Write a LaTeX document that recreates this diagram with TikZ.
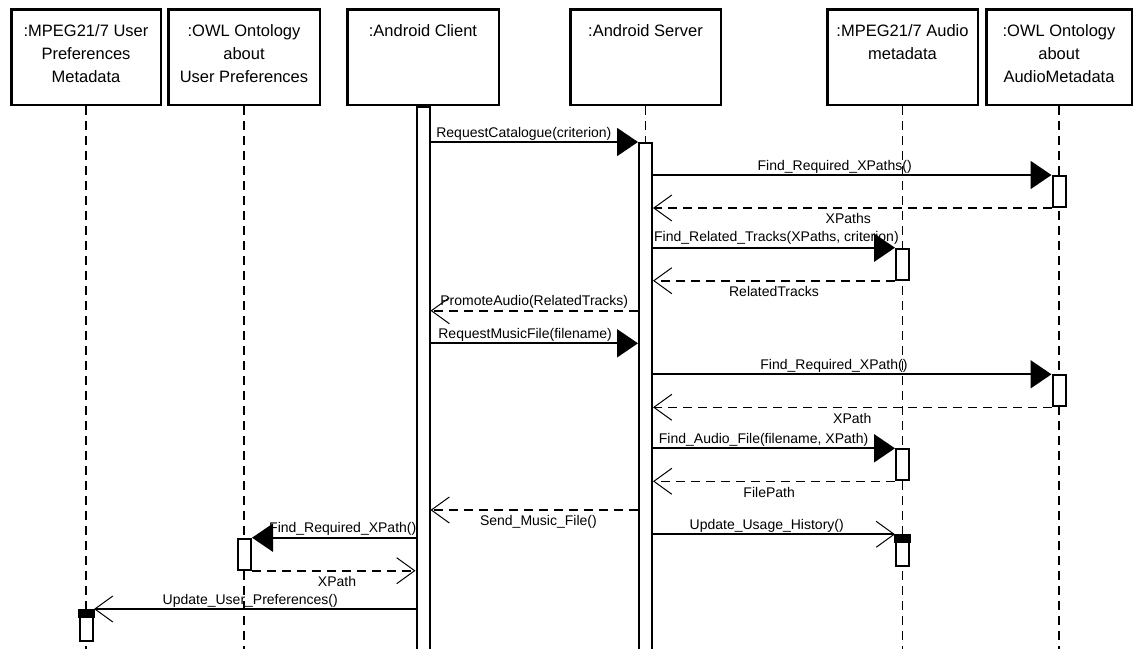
\documentclass[tikz,border=0pt]{standalone}
\usepackage{fontspec}
\setmainfont{Liberation Sans}
\usetikzlibrary{arrows.meta}

\tikzset{
  obj/.style={draw, line width=2.5pt, minimum height=95.5pt},
  title/.style={anchor=north, align=center, inner sep=0pt, yshift=-16.5pt,
    font=\fontsize{16.5}{23}\selectfont},
  lifeline/.style={line width=1.6pt, dash pattern=on 9pt off 6pt},
  bar/.style={draw, line width=2pt, fill=white, minimum width=13pt, anchor=north},
  act/.style={bar, minimum height=31pt},
  call/.style={line width=2pt, -{Triangle[length=21pt,width=28pt]}},
  back/.style={line width=1.6pt, dash pattern=on 9pt off 6pt,
    -{Straight Barb[length=18pt,width=26pt,line width=1pt]}},
  send/.style={line width=2pt, -{Straight Barb[length=18pt,width=26pt,line width=1pt]}},
  msg/.style={font=\fontsize{14}{16}\selectfont, inner sep=1pt, text height=10pt, text depth=3pt},
}

\begin{document}
\begin{tikzpicture}[x=1pt, y=-1pt]
  \useasboundingbox (0,0) rectangle (1135,648);

  \node[obj, minimum width=149.5pt, label={[title]north::MPEG21/7 User\\Preferences\\Metadata}] (umeta) at (86,57) {};
  \node[obj, minimum width=151.5pt, label={[title]north::OWL Ontology\\about\\User Preferences}] (uonto) at (244,57) {};
  \node[obj, minimum width=151.5pt, label={[title]north::Android Client}] (client) at (423,57) {};
  \node[obj, minimum width=150.5pt, label={[title]north::Android Server}] (server) at (645.5,57) {};
  \node[obj, minimum width=150.5pt, label={[title]north::MPEG21/7 Audio\\metadata}] (ameta) at (902.5,57) {};
  \node[obj, minimum width=145.5pt, label={[title]north::OWL Ontology\\about\\AudioMetadata}] (aonto) at (1059,57) {};

  \coordinate (bottom) at (0,652);
  \coordinate (promote) at (0,310.7);
  \coordinate (request) at (0,343.3);
  \coordinate (sendfile) at (0,510);

  \draw[lifeline] (umeta.south) -- (umeta.south |- bottom);
  \draw[lifeline] (uonto.south) -- (uonto.south |- bottom);
  \draw[lifeline] (ameta.south) -- (ameta.south |- bottom);
  \draw[lifeline] (aonto.south) -- (aonto.south |- bottom);
  \draw[lifeline] (server.south) -- (server.south |- 0,142);

  \node[bar, minimum height=546pt] (cbar) at (client.south) {};
  \node[bar, minimum height=510pt] (sbar) at (645.5,142) {};

  \node[act] (a1) at (1059,175) {};
  \node[act] (a2) at (902.5,247.7) {};
  \node[act] (a3) at (1059,374.3) {};
  \node[act] (a4) at (902.5,448.3) {};
  \node[act] (a5) at (902.5,534.3) {};
  \node[act] (a6) at (244.5,537.7) {};
  \node[act] (a7) at (86.5,609) {};
  \fill ([xshift=-1pt]a5.north west) rectangle ([xshift=1pt]a5.north east |- 0,543);
  \fill ([xshift=-1pt]a7.north west) rectangle ([xshift=1pt]a7.north east |- 0,618);

  \draw[call] (cbar.east |- sbar.north) to node[msg, above, pos=0.45] {RequestCatalogue(criterion)} (sbar.north west);
  \draw[call] (sbar.east |- a1.north) to node[msg, above, pos=0.456] {Find\_Required\_XPaths()} (a1.north west);
  \draw[back] (a1.south west) to node[msg, below=4pt, pos=0.51] {XPaths} (sbar.east |- a1.south);
  \draw[call] (sbar.east |- a2.north) to node[msg, above=1pt, pos=0.51] {Find\_Related\_Tracks(XPaths, criterion)} (a2.north west);
  \draw[back] (a2.south west) to node[msg, below=4pt, pos=0.5] {RelatedTracks} (sbar.east |- a2.south);

  \draw[back] (sbar.west |- promote) to node[msg, above, pos=0.5] {PromoteAudio(RelatedTracks)} (cbar.east |- promote);
  \draw[call] (cbar.east |- request) to node[msg, above, pos=0.456] {RequestMusicFile(filename)} (sbar.west |- request);

  \draw[call] (sbar.east |- a3.north) to node[msg, above, pos=0.454] {Find\_Required\_XPath()} (a3.north west);
  \draw[back] (a3.south west) to node[msg, below=4pt, pos=0.5] {XPath} (sbar.east |- a3.south);
  \draw[call] (sbar.east |- a4.north) to node[msg, above, pos=0.457] {Find\_Audio\_File(filename, XPath)} (a4.north west);
  \draw[back] (a4.south west) to node[msg, below=4pt, pos=0.52] {FilePath} (sbar.east |- a4.south);

  \draw[back] (sbar.west |- sendfile) to node[msg, below=4pt, pos=0.48] {Send\_Music\_File()} (cbar.east |- sendfile);
  \draw[send] (sbar.east |- a5.north) to node[msg, above, pos=0.47] {Update\_Usage\_History()} (a5.north west);

  \draw[call] (cbar.west |- a6.north) to node[msg, above, pos=0.445] {Find\_Required\_XPath()} (a6.north east);
  \draw[back] (a6.south east) to node[msg, below=4pt, pos=0.52] {XPath} (cbar.west |- a6.south);
  \draw[send] (cbar.west |- a7.north) to node[msg, above, pos=0.514] {Update\_User\_Preferences()} (a7.north east);
\end{tikzpicture}
\end{document}
